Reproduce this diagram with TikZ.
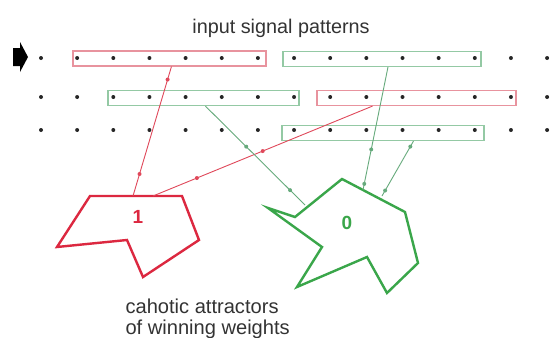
\documentclass[tikz,border=0pt]{standalone}
\usepackage{fontspec}
\setmainfont{Liberation Sans}
\usetikzlibrary{calc}
\definecolor{polyred}{HTML}{DC2840}
\definecolor{boxred}{HTML}{E8939E}
\definecolor{linered}{HTML}{E0485A}
\definecolor{polygreen}{HTML}{3AA64A}
\definecolor{boxgreen}{HTML}{94C9A4}
\definecolor{linegreen}{HTML}{66AA7C}
\definecolor{txt}{HTML}{333333}
\tikzset{
  griddot/.style={circle,fill=black!85,inner sep=0pt,minimum size=4pt},
  patbox/.style={draw,line width=1.2pt,minimum height=15pt,inner sep=0pt},
  redbox/.style={patbox,draw=boxred},
  greenbox/.style={patbox,draw=boxgreen},
  redline/.style={draw=linered,line width=0.9pt},
  greenline/.style={draw=linegreen,line width=0.9pt},
  reddot/.style={circle,fill=linered,inner sep=0pt,minimum size=4pt},
  greendot/.style={circle,fill=linegreen,inner sep=0pt,minimum size=4pt},
  attractor/.style={line width=2.4pt,line join=miter},
  titlelabel/.style={font=\fontsize{19.8pt}{21pt}\selectfont,text=txt},
  biglabel/.style={font=\fontsize{20.1pt}{21pt}\selectfont,text=txt},
  numlabel/.style={font=\fontsize{19pt}{21pt}\selectfont\bfseries}
}
\begin{document}
\begin{tikzpicture}[x=1pt,y=-1pt]
\useasboundingbox (0,0) rectangle (550,338);
\fill[white] (0,0) rectangle (550,338);
% pattern boxes (behind dots)
\node[redbox,minimum width=193pt] (rb1) at (169.5,58.5) {};
\node[greenbox,minimum width=198pt] (gb1) at (382,59) {};
\node[greenbox,minimum width=191pt] (gb2) at (203.5,98) {};
\node[redbox,minimum width=199pt] (rb2) at (416.5,98) {};
\node[greenbox,minimum width=202pt] (gb3) at (383,133) {};
% dot grid
\foreach \r/\yy in {1/58,2/97,3/130}{
  \foreach \i in {0,...,14}{
    \node[griddot] (d\r-\i) at ({41+36.15*\i},\yy) {};
  }
}
% input arrow
\fill[black] (13,48) -- (20,48) -- (20,42) -- (28,57) -- (20,72) -- (20,66) -- (13,66) -- cycle;
% title
\node[titlelabel,anchor=base] (title) at (281,33) {input signal patterns};
% attractors
\draw[attractor,draw=polyred] (90,196) -- (182,196) -- (199,240) -- (143,277) -- (127,240) -- (57,247) -- cycle;
\node[numlabel,text=polyred] (one) at (138,217) {1};
\draw[attractor,draw=polygreen] (342,179) -- (405,212) -- (418,263) -- (387,293) -- (367,257) -- (297,287) -- (322,247) -- (268,208) -- (295,217) -- cycle;
\node[numlabel,text=polygreen] (zero) at (347,223) {0};
% connector end points
\coordinate (r1e) at (133,196);
\coordinate (r2e) at (153,196);
\coordinate (gAe) at (305,205);
\coordinate (gBe) at (363,190);
\coordinate (gCe) at (382,196);
% connectors
\draw[redline] ($(rb1.south west)!0.51!(rb1.south east)$) -- (r1e)
  node[reddot,pos=0.1]{} node[reddot,pos=0.83]{};
\draw[redline] ($(rb2.south west)!0.28!(rb2.south east)$) -- (r2e)
  node[reddot,pos=0.5]{} node[reddot,pos=0.8]{};
\draw[greenline] ($(gb2.south west)!0.51!(gb2.south east)$) -- (gAe)
  node[greendot,pos=0.41]{} node[greendot,pos=0.85]{};
\draw[greenline] ($(gb1.south west)!0.53!(gb1.south east)$) -- (gBe)
  node[greendot,pos=0.67]{} node[greendot,pos=0.95]{};
\draw[greenline] ($(gb3.south west)!0.65!(gb3.south east)$) -- (gCe)
  node[greendot,pos=0.1]{} node[greendot,pos=0.9]{};
% caption
\node[biglabel,anchor=base west,align=left] (cap) at (122,334) {cahotic attractors\\of winning weights};
\end{tikzpicture}
\end{document}
